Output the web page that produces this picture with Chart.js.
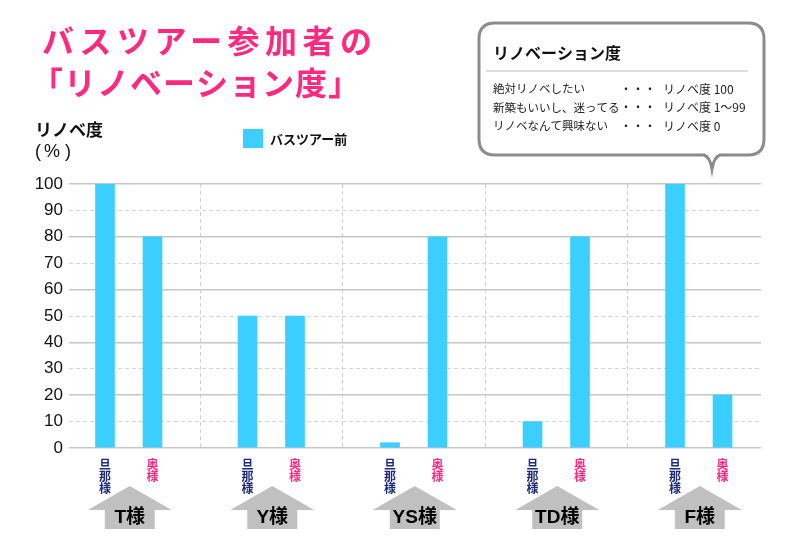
<!DOCTYPE html>
<html>
<head>
<meta charset="utf-8">
<script src="https://cdn.jsdelivr.net/npm/chart.js@4/dist/chart.umd.min.js"></script>
<style>
  html, body { margin: 0; padding: 0; background: #fff; }
  canvas { display: block; }
</style>
</head>
<body>
<canvas id="renoChart" width="800" height="550"></canvas>
<script>
// Chart data
const customers = ['T様', 'Y様', 'YS様', 'TD様', 'F様'];
const roles = ['旦那様', '奥様'];
const husbandScores = [100, 50, 2, 10, 100];
const wifeScores = [80, 50, 80, 80, 20];
const seriesLabel = 'バスツアー前';

// Info box text
const infoTitle = 'リノベーション度';
const infoLeft = ['絶対リノベしたい', '新築もいいし、迷ってる', 'リノベなんて興味ない'];
const infoRight = ['リノベ度 100', 'リノベ度 1〜99', 'リノベ度 0'];

const PINK = '#ff2a80';
const NAVY = '#1c2a78';
const BAR = '#3acfff';
const JP = '"Noto Sans CJK JP", "Noto Sans", sans-serif';
const LAT = '"Liberation Sans", Arial, sans-serif';

// each customer takes three slots on the x scale: husband, wife, gap
const barPoints = [];
customers.forEach((c, i) => {
    barPoints.push({ x: i * 3, y: husbandScores[i] });
    barPoints.push({ x: i * 3 + 1, y: wifeScores[i] });
});
const separators = customers.slice(0, -1).map((c, i) => i * 3 + 2);

// Function to draw the speech bubble legend box
function drawInfoBox(ctx) {
    const x0 = 479, y0 = 23, x1 = 764, y1 = 155, r = 16;
    ctx.save();
    ctx.beginPath();
    ctx.moveTo(x0 + r, y0);
    ctx.lineTo(x1 - r, y0);
    ctx.quadraticCurveTo(x1, y0, x1, y0 + r);
    ctx.lineTo(x1, y1 - r);
    ctx.quadraticCurveTo(x1, y1, x1 - r, y1);
    ctx.lineTo(720, y1);
    ctx.quadraticCurveTo(714, y1 + 2, 712, 169);
    ctx.quadraticCurveTo(710, y1 + 2, 704, y1);
    ctx.lineTo(x0 + r, y1);
    ctx.quadraticCurveTo(x0, y1, x0, y1 - r);
    ctx.lineTo(x0, y0 + r);
    ctx.quadraticCurveTo(x0, y0, x0 + r, y0);
    ctx.closePath();
    ctx.fillStyle = '#fff';
    ctx.fill();
    ctx.lineWidth = 3;
    ctx.strokeStyle = '#8c8c8c';
    ctx.stroke();

    ctx.fillStyle = '#111';
    ctx.textBaseline = 'middle';
    ctx.font = 'bold 16px ' + JP;
    ctx.fillText(infoTitle, 493, 53);

    ctx.beginPath();
    ctx.moveTo(486, 71);
    ctx.lineTo(748, 71);
    ctx.lineWidth = 2;
    ctx.strokeStyle = '#dddddd';
    ctx.stroke();

    ctx.fillStyle = '#222';
    infoLeft.forEach((t, i) => {
        const y = 89 + i * 18.5;
        ctx.font = '11.5px ' + JP;
        ctx.fillText(t, 493, y);
        ctx.font = '12px ' + JP;
        ctx.fillText('・・・', 620, y);
        ctx.fillText(infoRight[i], 663, y);
    });
    ctx.restore();
}

const decorations = {
    id: 'decorations',
    afterDraw(chart) {
        const ctx = chart.ctx;
        const xs = chart.scales.x;
        ctx.save();

        // title
        ctx.fillStyle = PINK;
        ctx.textBaseline = 'middle';
        ctx.font = 'bold 32px ' + JP;
        ctx.letterSpacing = '5.5px';
        ctx.fillText('バスツアー参加者の', 42, 41);
        ctx.letterSpacing = '1px';
        ctx.fillText('「リノベーション度」', 31, 83);
        ctx.letterSpacing = '0px';

        // y axis title
        ctx.fillStyle = '#111';
        ctx.font = 'bold 17px ' + JP;
        ctx.fillText('リノベ度', 35, 130);
        ctx.font = '18px ' + LAT;
        ctx.fillText('(', 35, 152);
        ctx.fillText('%', 44, 152);
        ctx.fillText(')', 65, 152);

        // legend
        const ds = chart.data.datasets[0];
        ctx.fillStyle = ds.backgroundColor;
        ctx.fillRect(243, 129, 20, 19);
        ctx.fillStyle = '#111';
        ctx.font = 'bold 13px ' + JP;
        ctx.fillText(ds.label, 270, 139);

        // role labels under each bar, stacked vertically
        ctx.font = 'bold 12px ' + JP;
        ctx.textAlign = 'center';
        barPoints.forEach((p, i) => {
            const role = roles[i % 2];
            const px = xs.getPixelForValue(p.x);
            ctx.fillStyle = i % 2 ? PINK : NAVY;
            [...role].forEach((ch, k) => ctx.fillText(ch, px, 464 + k * 12));
        });

        // arrows with customer names
        customers.forEach((name, i) => {
            const cx = (xs.getPixelForValue(i * 3) + xs.getPixelForValue(i * 3 + 1)) / 2 + 1;
            ctx.beginPath();
            ctx.moveTo(cx, 486);
            ctx.lineTo(cx + 42, 510);
            ctx.lineTo(cx + 25, 510);
            ctx.lineTo(cx + 25, 529);
            ctx.lineTo(cx - 25, 529);
            ctx.lineTo(cx - 25, 510);
            ctx.lineTo(cx - 42, 510);
            ctx.closePath();
            ctx.fillStyle = '#c0c0c0';
            ctx.fill();
            ctx.fillStyle = '#000';
            ctx.font = 'bold 19px ' + LAT + ', ' + JP;
            ctx.fillText(name, cx, 518);
        });
        ctx.restore();

        drawInfoBox(ctx);
    }
};

const ctx = document.getElementById('renoChart').getContext('2d');
new Chart(ctx, {
    type: 'bar',
    data: {
        datasets: [{
            label: seriesLabel,
            data: barPoints,
            backgroundColor: BAR,
            borderWidth: 0,
            barThickness: 19
        }]
    },
    options: {
        responsive: false,
        animation: false,
        layout: { padding: { top: 184, right: 39, left: 0, bottom: 0 } },
        plugins: {
            legend: { display: false },
            tooltip: { enabled: false }
        },
        scales: {
            x: {
                type: 'linear',
                min: -0.758,
                max: 13.81,
                offset: false,
                ticks: { display: false },
                grid: { offset: false, drawTicks: false, color: '#cfcfcf', lineWidth: 1 },
                border: { display: false, dash: [4, 3] },
                afterBuildTicks: scale => {
                    scale.ticks = separators.map(v => ({ value: v }));
                },
                afterFit: scale => { scale.height = 102; }
            },
            y: {
                min: 0,
                max: 100,
                ticks: {
                    stepSize: 10,
                    padding: 6,
                    color: '#111',
                    font: { family: LAT, size: 17 }
                },
                grid: {
                    drawTicks: false,
                    color: c => (c.tick && c.tick.value % 20) ? '#d4d4d4' : '#c6c6c6',
                    lineWidth: c => (c.tick && c.tick.value % 20) ? 1 : 1.5
                },
                border: {
                    display: false,
                    dash: c => (c.tick && c.tick.value % 20) ? [4, 3] : []
                },
                afterFit: scale => { scale.width = 69; }
            }
        }
    },
    plugins: [decorations]
});
</script>
</body>
</html>
